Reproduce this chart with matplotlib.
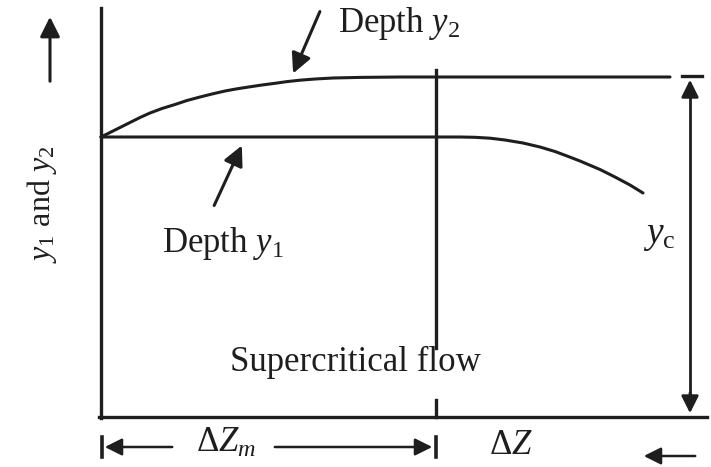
import matplotlib.pyplot as plt

# diagram drawn in pixel-like units: x to the right, y downwards
# depth y2 curve (rises from the origin, then stays level)
y2_x = [101, 105, 110, 120, 130, 140, 150, 162, 175, 187, 200, 212, 225, 237,
        250, 262, 275, 287, 300, 315, 333, 360, 400, 500, 600, 670]
y2_y = [137, 135, 132.5, 127.5, 122.5, 117.5, 113, 108.5, 104.5, 100.5, 97,
        94, 91, 88.8, 86.8, 85, 83.3, 81.6, 80.2, 79, 78, 77.4, 77, 77, 77, 77]

# depth y1 curve (level, then drops towards y_c)
y1_x = [101, 200, 300, 400, 460, 475, 490, 505, 523, 540, 555, 567, 580,
        600, 615, 630, 643]
y1_y = [137, 137, 137, 137, 137, 137.3, 138.2, 140, 143, 147, 151.5, 156,
        161, 169.5, 177, 185, 193]

ink = '#1e1e1e'
serif = 'Liberation Serif'
plt.rcParams['mathtext.fontset'] = 'custom'
plt.rcParams['mathtext.rm'] = 'Liberation Serif'
plt.rcParams['mathtext.it'] = 'Liberation Serif:italic'

fig = plt.figure(figsize=(7.11, 4.67), dpi=100)
ax = fig.add_axes([0, 0, 1, 1])
ax.set_xlim(0, 711)
ax.set_ylim(467, 0)
ax.axis('off')

# axes of the sketch
ax.plot([101, 101], [8, 418], c=ink, lw=2.4)
ax.plot([99, 707], [417, 417], c=ink, lw=2.4)

# curves
ax.plot(y2_x, y2_y, c=ink, lw=2.2, solid_capstyle='round')
ax.plot(y1_x, y1_y, c=ink, lw=2.2, solid_capstyle='round')

# vertical line at the end of delta Z_m
ax.plot([436, 436], [70, 348], c=ink, lw=2.4)
ax.plot([436, 436], [400, 417], c=ink, lw=2.4)

# y_c dimension on the right
ax.plot([682, 702], [76, 76], c=ink, lw=2.4)
ax.plot([690, 690], [85, 405], c=ink, lw=2.0)
ax.annotate('', xy=(690, 77), xytext=(690, 100),
            arrowprops=dict(arrowstyle='-|>', color=ink, lw=2.0, mutation_scale=26))
ax.annotate('', xy=(690, 416), xytext=(690, 390),
            arrowprops=dict(arrowstyle='-|>', color=ink, lw=2.0, mutation_scale=26))

# pointer arrows for the two depth labels
ax.annotate('', xy=(292, 76), xytext=(321, 9),
            arrowprops=dict(arrowstyle='-|>', color=ink, lw=2.2, mutation_scale=30))
ax.annotate('', xy=(243, 143), xytext=(213, 208),
            arrowprops=dict(arrowstyle='-|>', color=ink, lw=2.2, mutation_scale=30))

# vertical axis arrow
ax.annotate('', xy=(50, 14), xytext=(50, 84),
            arrowprops=dict(arrowstyle='-|>', color=ink, lw=2.2, mutation_scale=30))

# delta Z_m dimension
ax.plot([102, 102], [437, 457], c=ink, lw=2.6)
ax.annotate('', xy=(102, 447), xytext=(175, 447),
            arrowprops=dict(arrowstyle='-|>', color=ink, lw=1.8, mutation_scale=26))
ax.plot([436, 436], [437, 457], c=ink, lw=2.6)
ax.annotate('', xy=(435, 447), xytext=(272, 447),
            arrowprops=dict(arrowstyle='-|>', color=ink, lw=1.8, mutation_scale=26))

# delta Z arrow at bottom right
ax.annotate('', xy=(641, 456), xytext=(698, 456),
            arrowprops=dict(arrowstyle='-|>', color=ink, lw=1.8, mutation_scale=26))

# labels
fs = 25
ax.text(338, 24, r'Depth $y_2$', fontsize=fs, family=serif, color=ink, va='center')
ax.text(162, 243, r'Depth $y_1$', fontsize=fs, family=serif, color=ink, va='center')
ax.text(643, 236, r'$y_\mathrm{c}$', fontsize=fs + 2, family=serif, color=ink, va='center')
ax.text(355, 362, 'Supercritical flow', fontsize=fs, family=serif, color=ink,
        ha='center', va='center')
ax.text(226, 443, r'$\Delta Z_m$', fontsize=fs, family=serif, color=ink,
        ha='center', va='center')
ax.text(511, 446, r'$\Delta Z$', fontsize=fs, family=serif, color=ink,
        ha='center', va='center')
ax.text(42, 204, r'$y_1$ and $y_2$', fontsize=23, family=serif, color=ink,
        ha='center', va='center', rotation=90)

fig.savefig('out.png', dpi=100)
